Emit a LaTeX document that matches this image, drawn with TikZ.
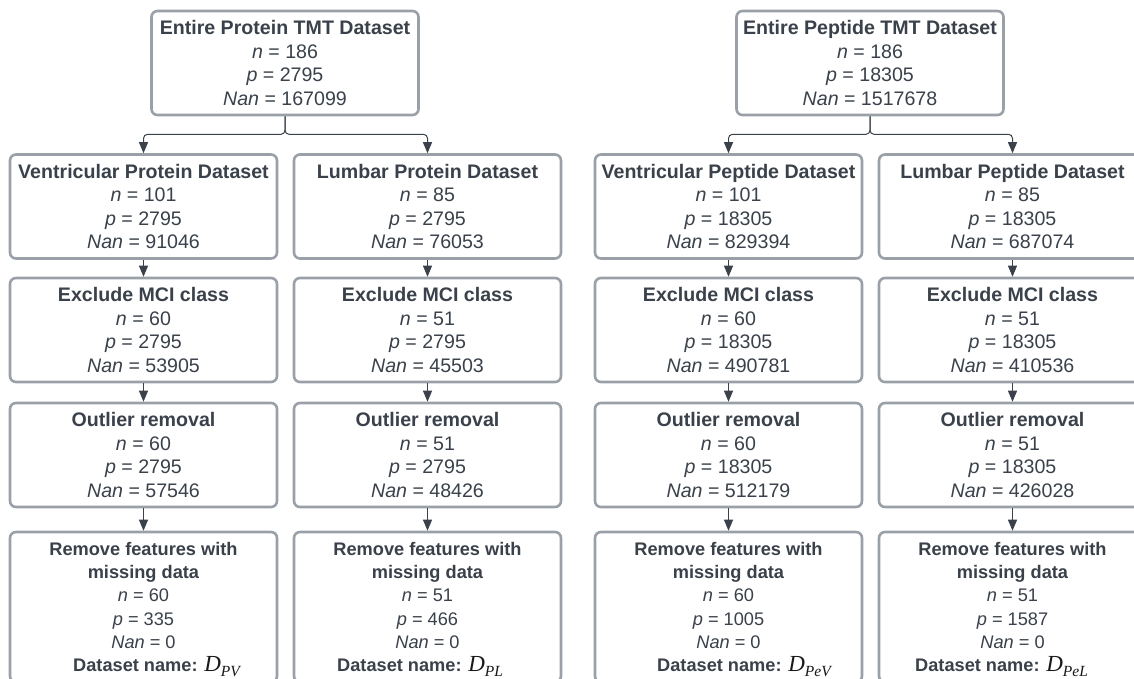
\documentclass[tikz,border=0pt]{standalone}
\usepackage{fontspec}
\setmainfont{Liberation Sans}
\newfontfamily\timesf{Liberation Serif}
\usetikzlibrary{arrows.meta}
\definecolor{bordergray}{RGB}{154,160,168}
\definecolor{txt}{RGB}{58,65,74}
\tikzset{
  box/.style={draw=bordergray, line width=2.6pt, rounded corners=6pt,
    minimum width=267pt, minimum height=104pt, align=center, text=txt,
    inner sep=0pt, font=\fontsize{19.6}{23.4}\selectfont},
  lastbox/.style={box, minimum height=150pt, font=\fontsize{18.2}{23.4}\selectfont},
  dname/.style={anchor=base west, inner sep=0pt, text=txt, font=\fontsize{18.2}{23.4}\selectfont},
  conn/.style={draw=txt, line width=1pt, -{Triangle[length=11pt,width=9pt]}}
}
\newcommand{\dsname}[1]{{\timesf\itshape\color{black!90}\fontsize{23}{24}\selectfont D\raisebox{-0.22em}{\fontsize{15.5}{16}\selectfont #1}}}
\begin{document}
\begin{tikzpicture}[x=1pt,y=-1pt]
\useasboundingbox (0,0) rectangle (1134,678);
\clip (0,0) rectangle (1134,678);
\fill[white] (0,0) rectangle (1134,678);

% top boxes
\node[box] (tp) at (285,63) {\textbf{Entire Protein TMT Dataset}\\\textit{n} = 186\\\textit{p} = 2795\\\textit{Nan} = 167099};
\node[box] (te) at (870,63) {\textbf{Entire Peptide TMT Dataset}\\\textit{n} = 186\\\textit{p} = 18305\\\textit{Nan} = 1517678};

% row 1
\node[box] (a1) at (143.5,206.5) {\textbf{Ventricular Protein Dataset}\\\textit{n} = 101\\\textit{p} = 2795\\\textit{Nan} = 91046};
\node[box] (b1) at (427.5,206.5) {\textbf{Lumbar Protein Dataset}\\\textit{n} = 85\\\textit{p} = 2795\\\textit{Nan} = 76053};
\node[box] (c1) at (728.5,206.5) {\textbf{Ventricular Peptide Dataset}\\\textit{n} = 101\\\textit{p} = 18305\\\textit{Nan} = 829394};
\node[box] (d1) at (1012.5,206.5) {\textbf{Lumbar Peptide Dataset}\\\textit{n} = 85\\\textit{p} = 18305\\\textit{Nan} = 687074};

% row 2
\node[box] (a2) at (143.5,330) {\textbf{Exclude MCI class}\\\textit{n} = 60\\\textit{p} = 2795\\\textit{Nan} = 53905};
\node[box] (b2) at (427.5,330) {\textbf{Exclude MCI class}\\\textit{n} = 51\\\textit{p} = 2795\\\textit{Nan} = 45503};
\node[box] (c2) at (728.5,330) {\textbf{Exclude MCI class}\\\textit{n} = 60\\\textit{p} = 18305\\\textit{Nan} = 490781};
\node[box] (d2) at (1012.5,330) {\textbf{Exclude MCI class}\\\textit{n} = 51\\\textit{p} = 18305\\\textit{Nan} = 410536};

% row 3
\node[box] (a3) at (143.5,455) {\textbf{Outlier removal}\\\textit{n} = 60\\\textit{p} = 2795\\\textit{Nan} = 57546};
\node[box] (b3) at (427.5,455) {\textbf{Outlier removal}\\\textit{n} = 51\\\textit{p} = 2795\\\textit{Nan} = 48426};
\node[box] (c3) at (728.5,455) {\textbf{Outlier removal}\\\textit{n} = 60\\\textit{p} = 18305\\\textit{Nan} = 512179};
\node[box] (d3) at (1012.5,455) {\textbf{Outlier removal}\\\textit{n} = 51\\\textit{p} = 18305\\\textit{Nan} = 426028};

% row 4
\node[lastbox] (a4) at (143.5,607) {\textbf{Remove features with}\\\textbf{missing data}\\\textit{n} = 60\\\textit{p} = 335\\\textit{Nan} = 0\\\mbox{}};
\node[lastbox] (b4) at (427.5,607) {\textbf{Remove features with}\\\textbf{missing data}\\\textit{n} = 51\\\textit{p} = 466\\\textit{Nan} = 0\\\mbox{}};
\node[lastbox] (c4) at (728.5,607) {\textbf{Remove features with}\\\textbf{missing data}\\\textit{n} = 60\\\textit{p} = 1005\\\textit{Nan} = 0\\\mbox{}};
\node[lastbox] (d4) at (1012.5,607) {\textbf{Remove features with}\\\textbf{missing data}\\\textit{n} = 51\\\textit{p} = 1587\\\textit{Nan} = 0\\\mbox{}};

\node[dname] (na) at (73,671.5) {\textbf{Dataset name:} \dsname{PV}};
\node[dname] (nb) at (337,671.5) {\textbf{Dataset name:} \dsname{PL}};
\node[dname] (nc) at (657,671.5) {\textbf{Dataset name:} \dsname{PeV}};
\node[dname] (nd) at (915,671.5) {\textbf{Dataset name:} \dsname{PeL}};

% connectors from top boxes
\draw[conn, rounded corners=4pt] (tp.south) -- ++(0,18) -| (a1.north);
\draw[conn, rounded corners=4pt] (tp.south) -- ++(0,18) -| (b1.north);
\draw[conn, rounded corners=4pt] (te.south) -- ++(0,18) -| (c1.north);
\draw[conn, rounded corners=4pt] (te.south) -- ++(0,18) -| (d1.north);

% vertical chains
\foreach \c in {a,b,c,d}{
  \draw[conn] (\c1.south) -- (\c2.north);
  \draw[conn] (\c2.south) -- (\c3.north);
  \draw[conn] (\c3.south) -- (\c4.north);
}
\end{tikzpicture}
\end{document}
